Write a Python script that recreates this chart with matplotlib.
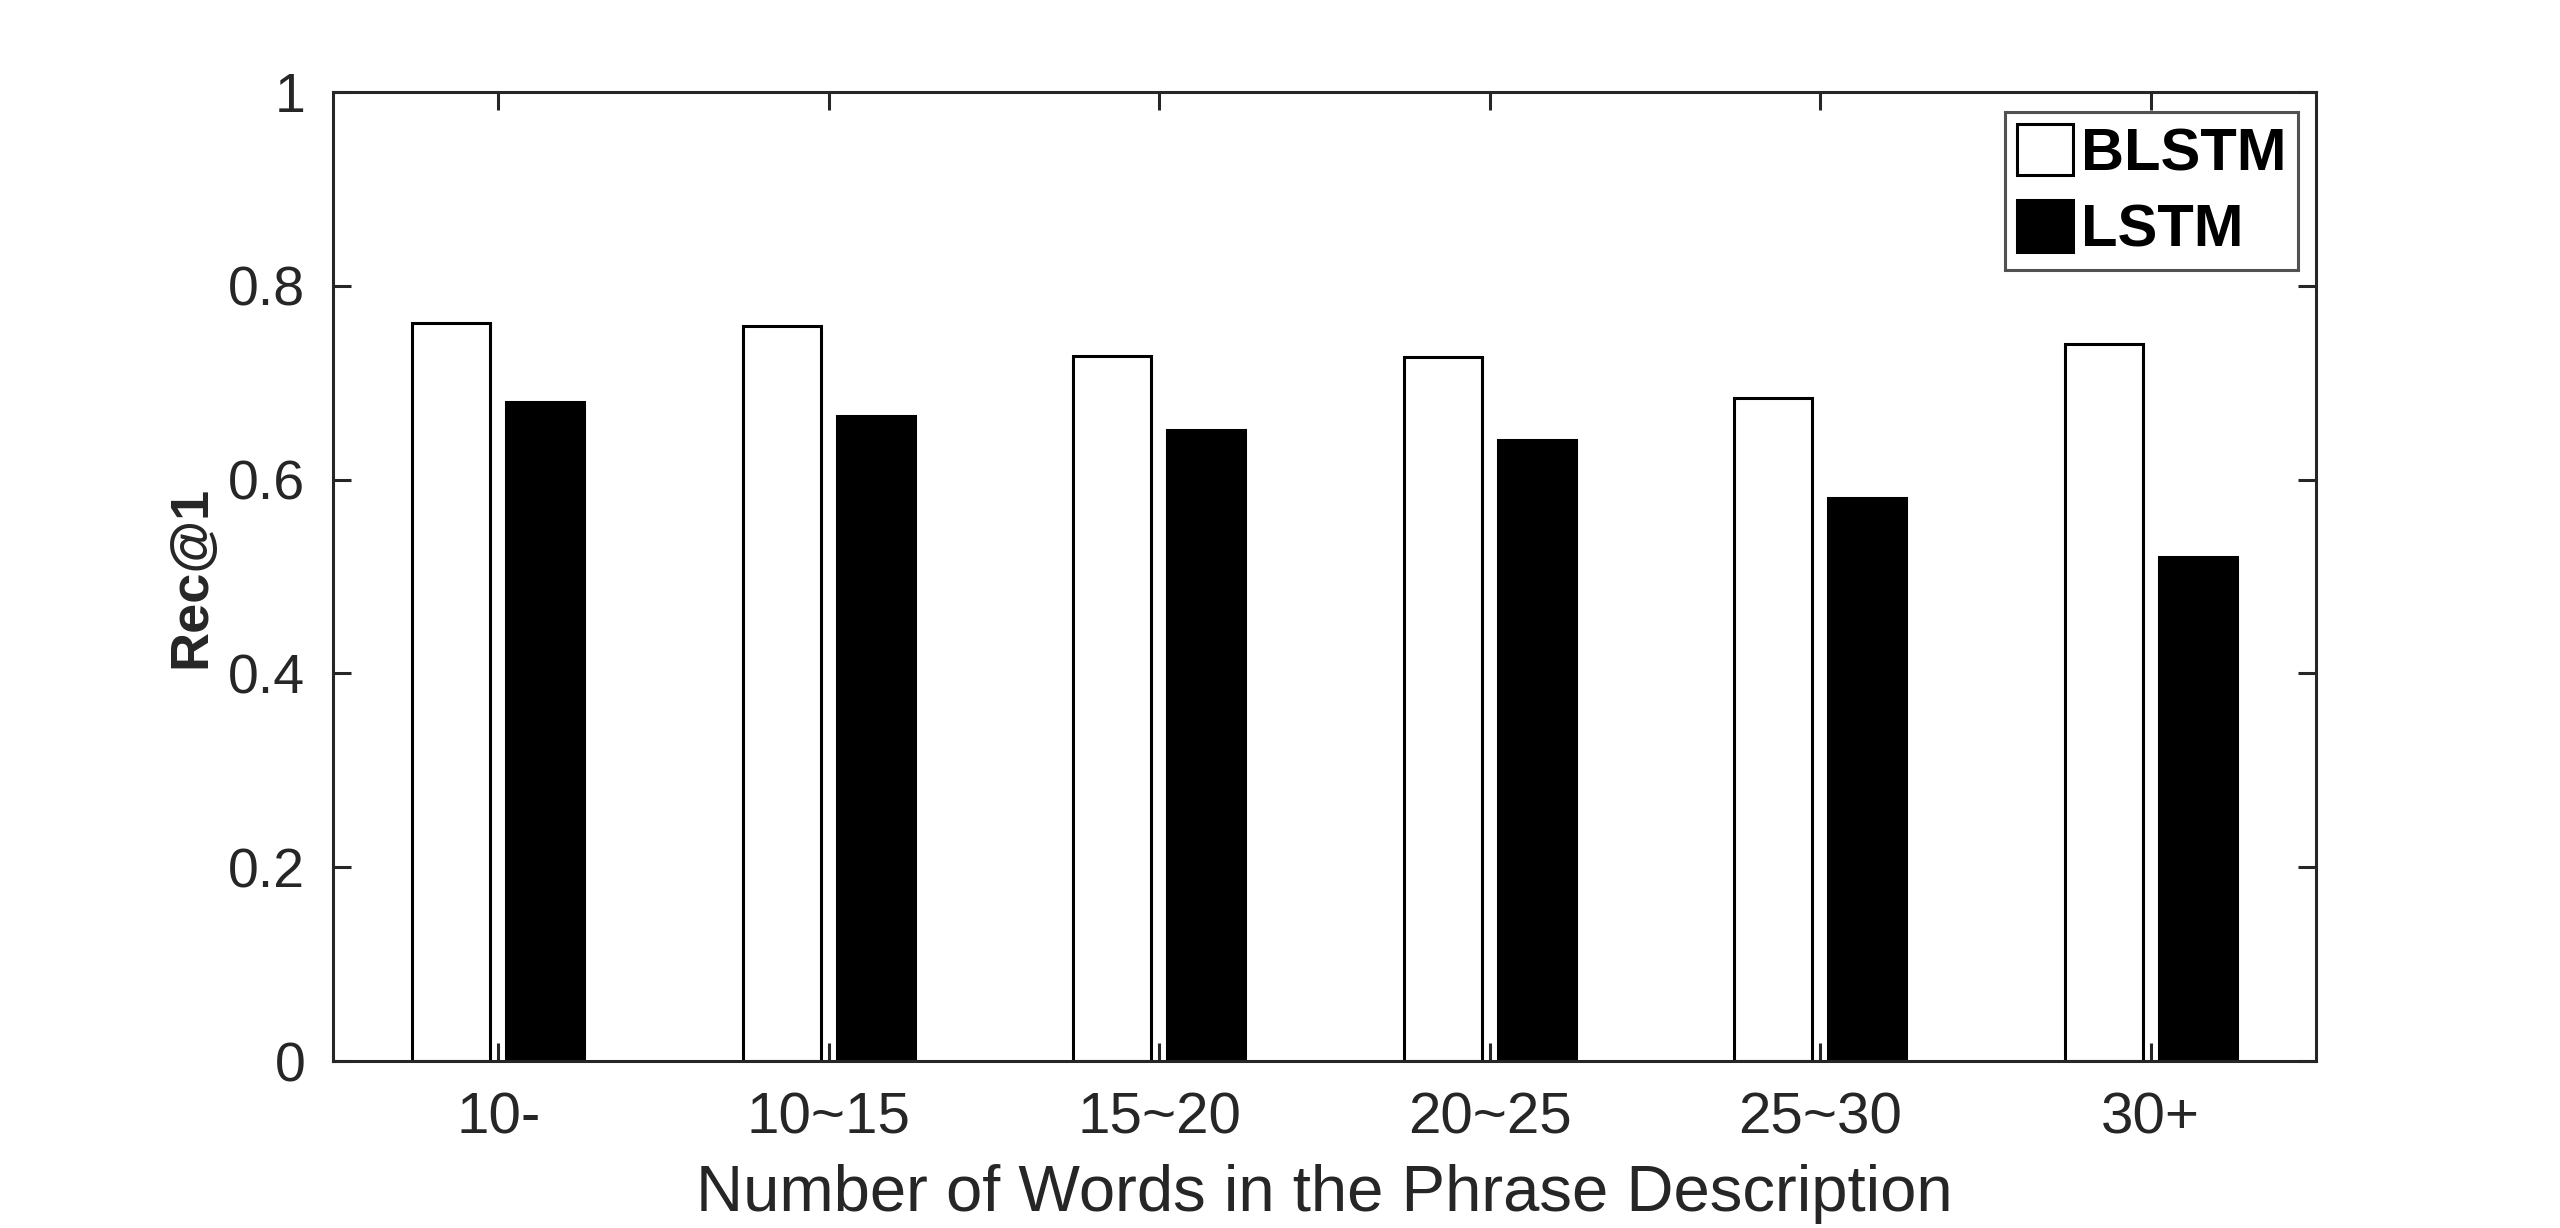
import matplotlib
matplotlib.use("Agg")
import matplotlib.pyplot as plt
import numpy as np
from matplotlib.patches import Patch

categories = ["10-", "10~15", "15~20", "20~25", "25~30", "30+"]
blstm = [0.762, 0.759, 0.728, 0.727, 0.684, 0.740]
lstm = [0.680, 0.666, 0.651, 0.641, 0.581, 0.520]
yticks = [0, 0.2, 0.4, 0.6, 0.8, 1]
ytick_labels = ["0", "0.2", "0.4", "0.6", "0.8", "1"]

plt.rcParams['font.family'] = ['Liberation Sans', 'DejaVu Sans']
axc = '#262626'

W, H = 2560, 1228
fig = plt.figure(figsize=(W / 100, H / 100), dpi=100)
ax = fig.add_axes([333 / W, 1 - 1061 / H, (2316 - 333) / W, (1061 - 92) / H])

x = np.arange(1, len(categories) + 1)
bw = 0.236
off = 0.142
ax.bar(x - off, blstm, bw, facecolor='white', edgecolor='black', linewidth=2.2, zorder=2)
ax.bar(x + off, lstm, bw, facecolor='black', edgecolor='black', linewidth=2.2, zorder=2)

ax.set_xlim(0.5, 6.5)
ax.set_ylim(0, 1)
ax.set_xticks(x)
ax.set_xticklabels(categories)
ax.set_yticks(yticks)
ax.set_yticklabels(ytick_labels)

for s in ax.spines.values():
    s.set_linewidth(2.2)
    s.set_color(axc)
ax.tick_params(direction='in', length=13, width=2.2, color=axc, labelcolor=axc,
               labelsize=42, top=True, right=True)
ax.tick_params(axis='y', pad=20, labelsize=40)
ax.tick_params(axis='x', pad=22)

ax.set_xlabel("Number of Words in the Phrase Description", fontsize=47, color=axc, labelpad=13)
ax.set_ylabel("Rec@1", fontsize=39, fontweight='bold', color=axc, labelpad=8)

handles = [Patch(facecolor='white', edgecolor='black', linewidth=2.2, label='BLSTM'),
           Patch(facecolor='black', edgecolor='black', linewidth=2.2, label='LSTM')]
leg = fig.legend(handles=handles, loc='upper right',
                 bbox_to_anchor=(2298 / W, 1 - 112 / H), bbox_transform=fig.transFigure,
                 prop={'size': 43, 'weight': 'bold'}, fancybox=False, frameon=True,
                 handlelength=0.95, handleheight=0.95, handletextpad=0.12,
                 labelspacing=0.3, borderpad=0.2, borderaxespad=0)
leg.get_frame().set_edgecolor(axc)
leg.get_frame().set_linewidth(2.2)

fig.savefig("out.png", dpi=100, facecolor='white')
